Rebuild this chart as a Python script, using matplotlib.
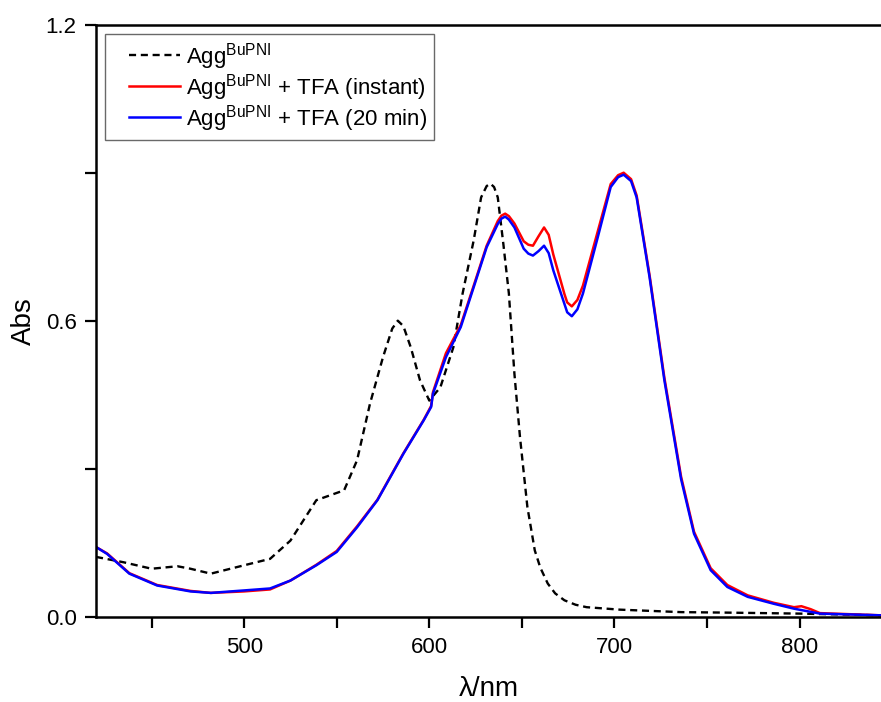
import matplotlib
matplotlib.use("Agg")
import matplotlib.pyplot as plt
from matplotlib.ticker import MultipleLocator, FormatStrFormatter
from matplotlib.lines import Line2D
from matplotlib.legend_handler import HandlerLine2D

plt.rcParams['font.family'] = ['Liberation Sans', 'DejaVu Sans']
plt.rcParams['mathtext.fontset'] = 'custom'
plt.rcParams['mathtext.rm'] = 'Liberation Sans'

# Agg (dashed black)
wl_agg = [420, 435, 450, 464, 471, 482, 500, 514, 525, 532, 539, 554, 561, 568,
          575, 580, 583, 586, 590, 595, 600, 606, 613, 618, 624, 628, 631, 633,
          635, 637, 640, 643, 646, 649, 653, 657, 660, 664, 668, 673, 679, 685,
          703, 736, 761, 800, 844]
abs_agg = [0.122, 0.111, 0.098, 0.103, 0.098, 0.088, 0.105, 0.118, 0.155, 0.196,
           0.237, 0.257, 0.318, 0.433, 0.527, 0.585, 0.601, 0.590, 0.547, 0.48,
           0.439, 0.466, 0.547, 0.656, 0.764, 0.851, 0.874, 0.879, 0.872, 0.851,
           0.757, 0.656, 0.493, 0.365, 0.223, 0.135, 0.100, 0.068, 0.048, 0.034,
           0.025, 0.020, 0.015, 0.010, 0.009, 0.007, 0.0035]

# Agg + TFA (20 min) (blue)
wl_20 = [420, 426, 438, 453, 471, 482, 500, 514, 525, 539, 550, 561, 572, 586,
         597, 601, 602, 609, 617, 624, 631, 637, 639, 641, 643, 646, 651, 653.5,
         656, 659, 662, 664.5, 667, 673, 674.5, 677, 680, 683, 691, 698, 702,
         705, 709, 712, 719, 727, 736, 743, 752, 761, 772, 786, 797, 811, 844]
abs_20 = [0.142, 0.128, 0.088, 0.064, 0.052, 0.049, 0.054, 0.058, 0.074, 0.105,
          0.132, 0.182, 0.237, 0.331, 0.399, 0.426, 0.453, 0.527, 0.588, 0.669,
          0.75, 0.797, 0.808, 0.812, 0.806, 0.79, 0.747, 0.737, 0.733, 0.742,
          0.753, 0.738, 0.703, 0.635, 0.618, 0.610, 0.624, 0.656, 0.770, 0.872,
          0.892, 0.897, 0.884, 0.851, 0.689, 0.480, 0.280, 0.169, 0.095, 0.061,
          0.041, 0.027, 0.017, 0.007, 0.0035]

# Agg + TFA (instant) (red)
wl_inst = [420, 426, 438, 453, 471, 482, 500, 514, 525, 539, 550, 561, 572, 586,
           597, 601, 602, 609, 617, 624, 631, 637, 639, 641, 643, 646, 651, 653.5,
           656, 659, 662, 664.5, 667, 673, 674.5, 677, 680, 683, 691, 698, 702,
           705, 709, 712, 719, 727, 736, 743, 752, 761, 772, 786, 797, 801, 806,
           811, 844]
abs_inst = [0.142, 0.129, 0.089, 0.065, 0.053, 0.049, 0.052, 0.056, 0.074, 0.106,
            0.134, 0.184, 0.238, 0.332, 0.400, 0.428, 0.456, 0.535, 0.592, 0.672,
            0.753, 0.803, 0.814, 0.818, 0.813, 0.798, 0.762, 0.755, 0.753, 0.772,
            0.790, 0.775, 0.735, 0.655, 0.638, 0.630, 0.643, 0.672, 0.782, 0.878,
            0.896, 0.901, 0.888, 0.855, 0.693, 0.485, 0.285, 0.173, 0.099, 0.065,
            0.044, 0.029, 0.020, 0.022, 0.016, 0.008, 0.0035]

fig = plt.figure(figsize=(8.81, 7.02), dpi=100)
ax = fig.add_axes([0.109, 0.121, 0.891, 0.843])

ax.plot(wl_agg, abs_agg, color='black', ls=(0, (3, 2)), lw=1.7,
        label='Agg$^{\\mathrm{BuPNI}}$')
ax.plot(wl_inst, abs_inst, color='#ff0000', lw=1.8,
        label='Agg$^{\\mathrm{BuPNI}}$ + TFA (instant)')
ax.plot(wl_20, abs_20, color='#0000ff', lw=1.8,
        label='Agg$^{\\mathrm{BuPNI}}$ + TFA (20 min)')

ax.set_xlim(420, 844)
ax.set_ylim(0, 1.2)
ax.xaxis.set_major_locator(MultipleLocator(100))
ax.xaxis.set_minor_locator(MultipleLocator(50))
ax.yaxis.set_major_locator(MultipleLocator(0.6))
ax.yaxis.set_minor_locator(MultipleLocator(0.3))
ax.yaxis.set_major_formatter(FormatStrFormatter('%.1f'))

ax.spines['right'].set_visible(False)
for s in ['left', 'bottom', 'top']:
    ax.spines[s].set_linewidth(1.8)
ax.tick_params(which='both', direction='out', width=1.6, length=8, labelsize=16, pad=6)
ax.tick_params(top=False, right=False)

ax.set_xlabel('λ/nm', fontsize=20, labelpad=13)
ax.set_ylabel('Abs', fontsize=20, labelpad=6)

leg = ax.legend(loc='upper left', fontsize=16, frameon=True, fancybox=False,
                edgecolor='#444444', borderaxespad=0.4, handlelength=3.1,
                handletextpad=0.25, labelspacing=0.0, borderpad=0.3,
                handler_map={Line2D: HandlerLine2D(xpad=0.8)})
leg.get_frame().set_linewidth(1.0)

fig.savefig('out.png', dpi=100)
